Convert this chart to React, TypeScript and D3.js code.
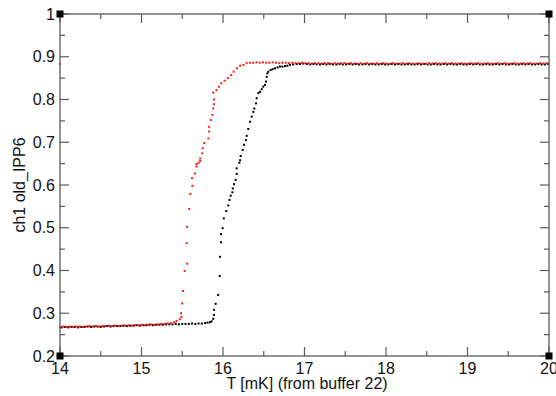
import React from "react";
import * as d3 from "d3";

const xTicks = [14, 15, 16, 17, 18, 19, 20];
const xMinor = [14.5, 15.5, 16.5, 17.5, 18.5, 19.5];
const yTicks = [0.2, 0.3, 0.4, 0.5, 0.6, 0.7, 0.8, 0.9, 1];
const yTickLabels = ["0.2", "0.3", "0.4", "0.5", "0.6", "0.7", "0.8", "0.9", "1"];
const yMinor = [0.25, 0.35, 0.45, 0.55, 0.65, 0.75, 0.85, 0.95];

const xLabel = "T [mK] (from buffer 22)";
const yLabel = "ch1 old_IPP6";

// black series
const blackLow: [number, number][] = [
  [14.02, 0.267], [14.06, 0.268], [14.10, 0.267], [14.14, 0.268], [14.18, 0.268], [14.22, 0.267], [14.26, 0.268],
  [14.30, 0.268], [14.34, 0.269], [14.38, 0.268], [14.42, 0.269], [14.46, 0.269], [14.50, 0.268], [14.54, 0.269],
  [14.58, 0.270], [14.62, 0.269], [14.66, 0.270], [14.70, 0.270], [14.74, 0.270], [14.78, 0.271], [14.82, 0.270],
  [14.86, 0.271], [14.90, 0.271], [14.94, 0.272], [14.98, 0.271], [15.02, 0.272], [15.06, 0.272], [15.10, 0.273],
  [15.14, 0.272], [15.18, 0.273], [15.22, 0.273], [15.26, 0.273], [15.30, 0.274], [15.34, 0.274], [15.38, 0.274],
  [15.42, 0.275], [15.46, 0.274], [15.50, 0.275], [15.54, 0.275], [15.58, 0.275], [15.62, 0.276], [15.66, 0.275],
  [15.70, 0.276], [15.74, 0.276], [15.78, 0.277], [15.81, 0.278], [15.84, 0.279],
];
const blackRise: [number, number][] = [
  [15.86, 0.281], [15.88, 0.287], [15.89, 0.296], [15.89, 0.308], [15.91, 0.322], [15.94, 0.343], [15.96, 0.387],
  [15.963, 0.432], [15.975, 0.466], [15.975, 0.485], [15.996, 0.499], [16.01, 0.522], [16.04, 0.539], [16.065, 0.552],
  [16.08, 0.565], [16.095, 0.575], [16.115, 0.583], [16.12, 0.592], [16.135, 0.602], [16.155, 0.612], [16.168, 0.626],
  [16.168, 0.639], [16.2, 0.652], [16.21, 0.658], [16.217, 0.668], [16.242, 0.682], [16.258, 0.694], [16.282, 0.705],
  [16.291, 0.715], [16.31, 0.731], [16.331, 0.748], [16.352, 0.76], [16.372, 0.771], [16.384, 0.779], [16.405, 0.791],
  [16.413, 0.803], [16.433, 0.815], [16.454, 0.818], [16.475, 0.824], [16.494, 0.83], [16.515, 0.834], [16.528, 0.842],
  [16.536, 0.853], [16.544, 0.861], [16.556, 0.865], [16.585, 0.869], [16.61, 0.871], [16.638, 0.873], [16.67, 0.875],
  [16.699, 0.877], [16.73, 0.877], [16.761, 0.878], [16.79, 0.879], [16.822, 0.881], [16.86, 0.882], [16.904, 0.883],
  [16.945, 0.883], [16.985, 0.884],
];
const blackHigh: [number, number][] = [
  [17.03, 0.883], [17.07, 0.882], [17.11, 0.883], [17.15, 0.882], [17.19, 0.882], [17.23, 0.883], [17.27, 0.882],
  [17.31, 0.883], [17.35, 0.882], [17.39, 0.882], [17.43, 0.883], [17.47, 0.882], [17.51, 0.882], [17.55, 0.883],
  [17.59, 0.882], [17.63, 0.883], [17.67, 0.882], [17.71, 0.882], [17.75, 0.883], [17.79, 0.882], [17.83, 0.883],
  [17.87, 0.882], [17.91, 0.882], [17.95, 0.883], [17.99, 0.882], [18.03, 0.882], [18.07, 0.883], [18.11, 0.882],
  [18.15, 0.883], [18.19, 0.882], [18.23, 0.882], [18.27, 0.883], [18.31, 0.882], [18.35, 0.882], [18.39, 0.883],
  [18.43, 0.882], [18.47, 0.883], [18.51, 0.882], [18.55, 0.882], [18.59, 0.883], [18.63, 0.882], [18.67, 0.882],
  [18.71, 0.883], [18.75, 0.882], [18.79, 0.883], [18.83, 0.882], [18.87, 0.882], [18.91, 0.883], [18.95, 0.882],
  [18.99, 0.882], [19.03, 0.883], [19.07, 0.882], [19.11, 0.883], [19.15, 0.882], [19.19, 0.882], [19.23, 0.883],
  [19.27, 0.882], [19.31, 0.882], [19.35, 0.883], [19.39, 0.882], [19.43, 0.883], [19.47, 0.882], [19.51, 0.882],
  [19.55, 0.883], [19.59, 0.882], [19.63, 0.882], [19.67, 0.883], [19.71, 0.882], [19.75, 0.883], [19.79, 0.882],
  [19.83, 0.882], [19.87, 0.883], [19.91, 0.882], [19.95, 0.882], [19.99, 0.883],
];

// red series
const redLow: [number, number][] = [
  [14.0, 0.883],
  [14.0, 0.268], [14.04, 0.269], [14.08, 0.268], [14.12, 0.269], [14.16, 0.268], [14.2, 0.269], [14.24, 0.269],
  [14.28, 0.268], [14.32, 0.269], [14.36, 0.27], [14.4, 0.269], [14.44, 0.27], [14.48, 0.269], [14.52, 0.27],
  [14.56, 0.27], [14.6, 0.271], [14.64, 0.27], [14.68, 0.271], [14.72, 0.27], [14.76, 0.271], [14.8, 0.271],
  [14.84, 0.272], [14.88, 0.271], [14.92, 0.272], [14.96, 0.272], [15.0, 0.273], [15.04, 0.272], [15.08, 0.273],
  [15.12, 0.274], [15.16, 0.273], [15.2, 0.274], [15.24, 0.275], [15.28, 0.275], [15.32, 0.276], [15.36, 0.277],
  [15.4, 0.279], [15.43, 0.282],
];
const redRise: [number, number][] = [
  [15.47, 0.286], [15.49, 0.291], [15.485, 0.3], [15.5, 0.323], [15.51, 0.352], [15.53, 0.399], [15.56, 0.416],
  [15.555, 0.464], [15.56, 0.502], [15.585, 0.544], [15.6, 0.579], [15.625, 0.598], [15.62, 0.616], [15.655, 0.627],
  [15.675, 0.643], [15.675, 0.649], [15.7, 0.652], [15.72, 0.656], [15.72, 0.662], [15.745, 0.674], [15.75, 0.686],
  [15.77, 0.698], [15.82, 0.709], [15.83, 0.725], [15.83, 0.736], [15.85, 0.752], [15.87, 0.764], [15.88, 0.779],
  [15.89, 0.789], [15.89, 0.8], [15.88, 0.816], [15.92, 0.822], [15.95, 0.83], [15.98, 0.838], [16.02, 0.844],
  [16.06, 0.85], [16.1, 0.857], [16.13, 0.865], [16.17, 0.873], [16.21, 0.879], [16.25, 0.881], [16.29, 0.885],
  [16.33, 0.886],
];
const redHigh: [number, number][] = [
  [16.37, 0.886], [16.41, 0.887], [16.45, 0.886], [16.49, 0.887], [16.53, 0.886], [16.57, 0.886], [16.61, 0.887],
  [16.65, 0.886], [16.69, 0.885], [16.73, 0.886], [16.77, 0.886], [16.81, 0.885], [16.85, 0.886], [16.89, 0.885],
  [16.93, 0.885], [16.97, 0.886], [17.01, 0.885], [17.05, 0.885], [17.09, 0.884], [17.13, 0.885], [17.17, 0.885],
  [17.21, 0.884], [17.25, 0.885], [17.29, 0.885], [17.33, 0.884], [17.37, 0.885], [17.41, 0.884], [17.45, 0.885],
  [17.49, 0.885], [17.53, 0.884], [17.57, 0.885], [17.61, 0.884], [17.65, 0.884], [17.69, 0.885], [17.73, 0.884],
  [17.77, 0.885], [17.81, 0.884], [17.85, 0.884], [17.89, 0.885], [17.93, 0.884], [17.97, 0.885], [18.01, 0.884],
  [18.05, 0.884], [18.09, 0.885], [18.13, 0.884], [18.17, 0.884], [18.21, 0.885], [18.25, 0.884], [18.29, 0.885],
  [18.33, 0.884], [18.37, 0.884], [18.41, 0.885], [18.45, 0.884], [18.49, 0.884], [18.53, 0.885], [18.57, 0.884],
  [18.61, 0.885], [18.65, 0.884], [18.69, 0.884], [18.73, 0.885], [18.77, 0.884], [18.81, 0.885], [18.85, 0.884],
  [18.89, 0.884], [18.93, 0.885], [18.97, 0.884], [19.01, 0.884], [19.05, 0.885], [19.09, 0.884], [19.13, 0.885],
  [19.17, 0.884], [19.21, 0.884], [19.25, 0.885], [19.29, 0.884], [19.33, 0.884], [19.37, 0.885], [19.41, 0.884],
  [19.45, 0.885], [19.49, 0.884], [19.53, 0.884], [19.57, 0.885], [19.61, 0.884], [19.65, 0.884], [19.69, 0.885],
  [19.73, 0.884], [19.77, 0.885], [19.81, 0.884], [19.85, 0.884], [19.89, 0.885], [19.93, 0.884], [19.97, 0.885],
];

const blackData = [...blackLow, ...blackRise, ...blackHigh];
const redData = [...redLow, ...redRise, ...redHigh];

const W = 556;
const H = 396;
const L = 60, R = 549, T = 14, B = 356;
const FONT = "'Liberation Sans', Arial, Helvetica, sans-serif";
const AX = "#5a5a5a";

export default function App() {
  const x = d3.scaleLinear().domain([14, 20]).range([L, R]);
  const y = d3.scaleLinear().domain([0.2, 1]).range([B, T]);
  const major = 9, minor = 5;
  const dot = 2;

  return (
    <svg width={W} height={H} style={{ position: "absolute", left: 0, top: 0, background: "#fff" }}>
      <rect x={0} y={0} width={W} height={H} fill="#fff" />
      {/* data */}
      <g fill="#000">
        {blackData.map((d, i) => (
          <rect key={"b" + i} x={x(d[0]) - dot / 2} y={y(d[1]) - dot / 2} width={dot} height={dot} />
        ))}
      </g>
      <g fill="#ff1a1a">
        {redData.map((d, i) => (
          <rect key={"r" + i} x={x(d[0]) - dot / 2} y={y(d[1]) - dot / 2} width={dot} height={dot} />
        ))}
      </g>
      {/* frame */}
      <rect x={L} y={T} width={R - L} height={B - T} fill="none" stroke={AX} strokeWidth={1.3} />
      {/* ticks */}
      <g stroke={AX} strokeWidth={1.2}>
        {xTicks.map((t) => (
          <g key={"xt" + t}>
            <line x1={x(t)} x2={x(t)} y1={B} y2={B - major} />
            <line x1={x(t)} x2={x(t)} y1={T} y2={T + major} />
          </g>
        ))}
        {xMinor.map((t) => (
          <g key={"xm" + t}>
            <line x1={x(t)} x2={x(t)} y1={B} y2={B - minor} />
            <line x1={x(t)} x2={x(t)} y1={T} y2={T + minor} />
          </g>
        ))}
        {yTicks.map((t) => (
          <g key={"yt" + t}>
            <line x1={L} x2={L + major} y1={y(t)} y2={y(t)} />
            <line x1={R} x2={R - major} y1={y(t)} y2={y(t)} />
          </g>
        ))}
        {yMinor.map((t) => (
          <g key={"ym" + t}>
            <line x1={L} x2={L + minor} y1={y(t)} y2={y(t)} />
            <line x1={R} x2={R - minor} y1={y(t)} y2={y(t)} />
          </g>
        ))}
      </g>
      {/* corner squares */}
      <g fill="#000">
        {[[L, T], [R, T], [L, B], [R, B]].map(([cx, cy], i) => (
          <rect key={"c" + i} x={cx - 3.5} y={cy - 3.5} width={7} height={7} />
        ))}
      </g>
      {/* tick labels */}
      <g fontFamily={FONT} fontSize={16} fill="#111">
        {xTicks.map((t) => (
          <text key={"xl" + t} x={x(t)} y={373.5} textAnchor="middle">{String(t)}</text>
        ))}
        {yTicks.map((t, i) => (
          <text key={"yl" + t} x={55} y={y(t) + 5.7} textAnchor="end">{yTickLabels[i]}</text>
        ))}
      </g>
      {/* axis titles */}
      <text x={307} y={389} textAnchor="middle" fontFamily={FONT} fontSize={16} fill="#111">{xLabel}</text>
      <text transform={`translate(25,${(T + B) / 2}) rotate(-90)`} textAnchor="middle" fontFamily={FONT} fontSize={16} fill="#111">{yLabel}</text>
    </svg>
  );
}
